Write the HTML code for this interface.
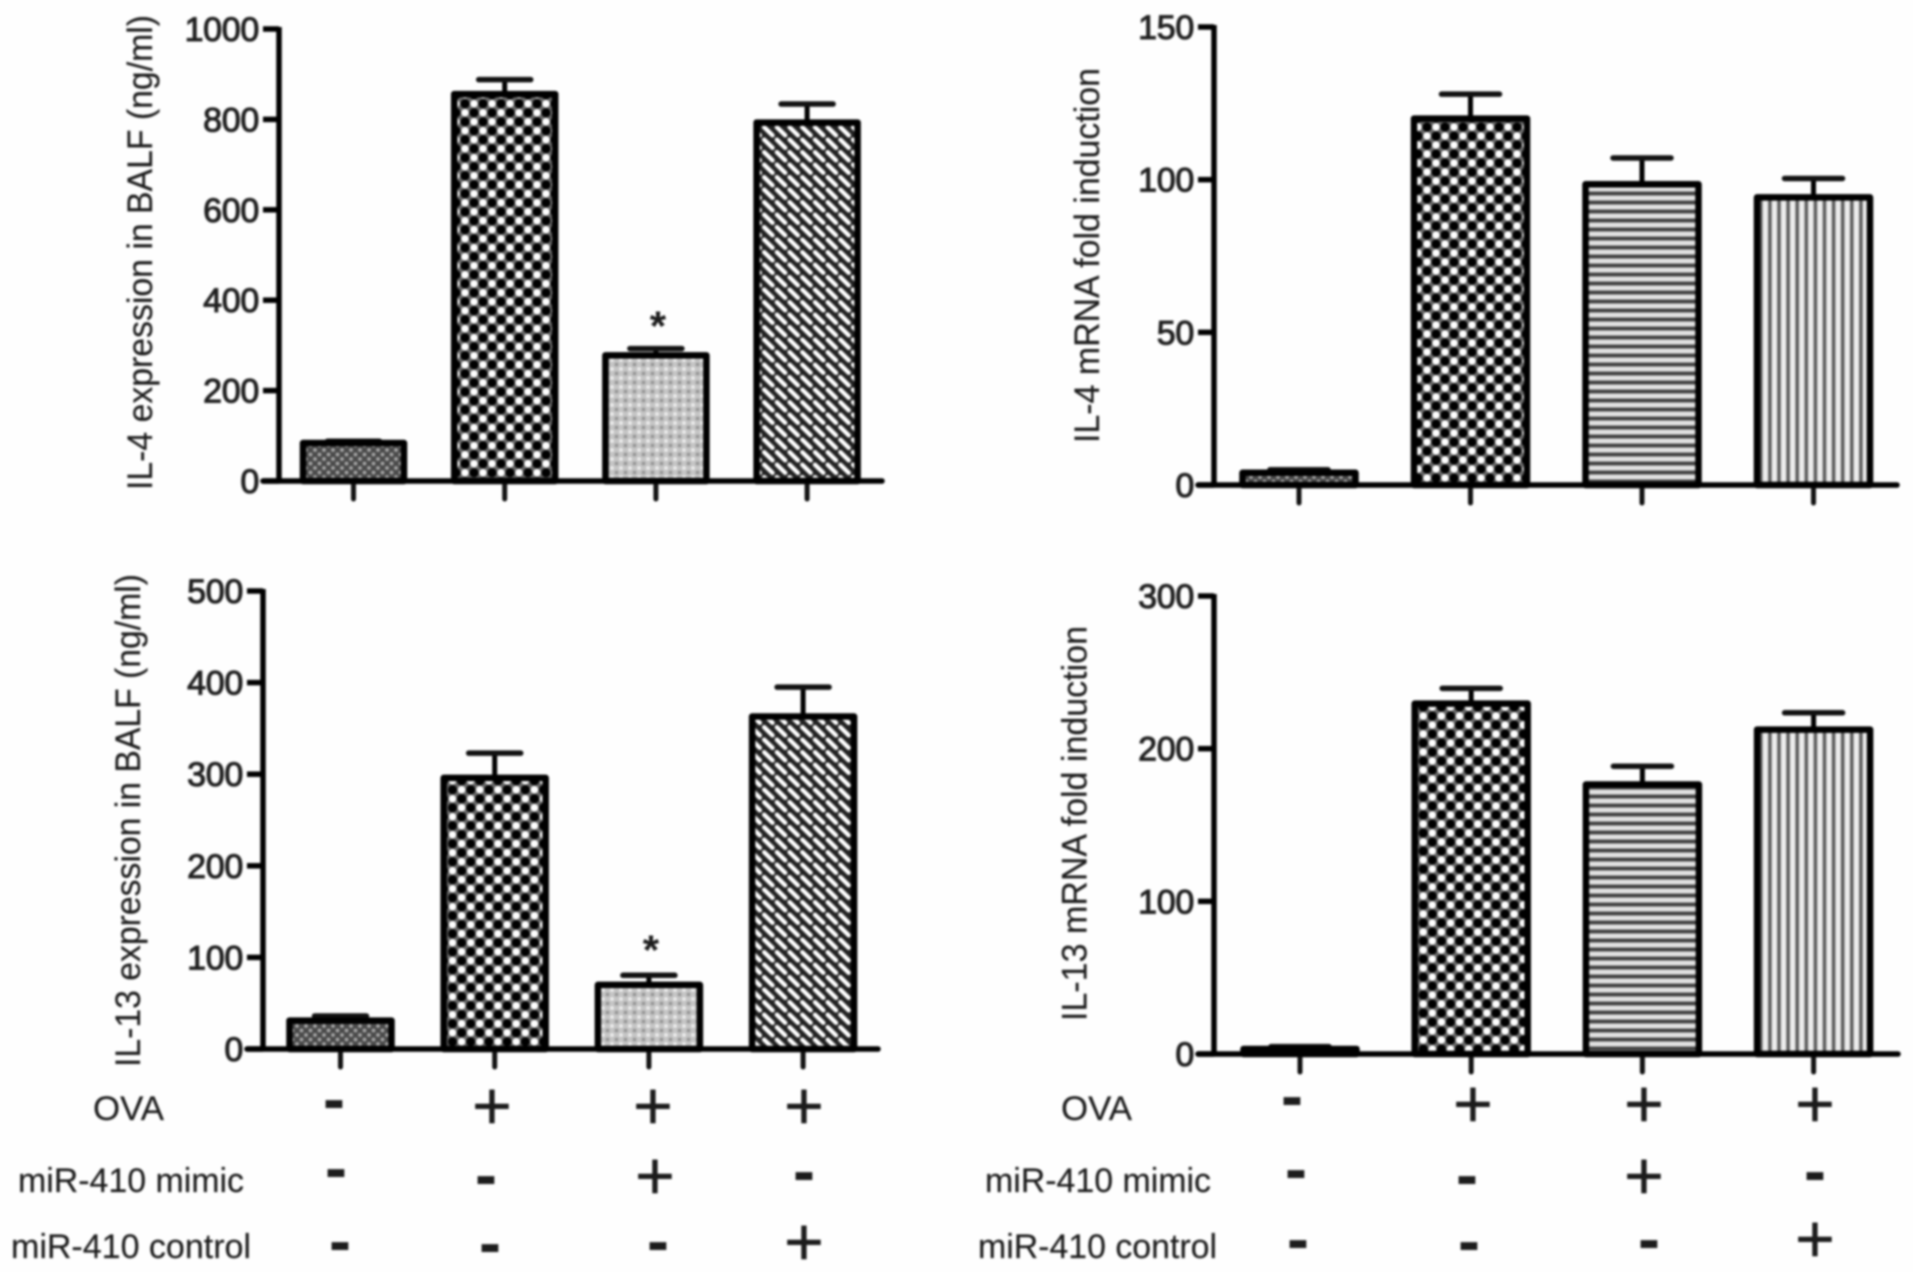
<!DOCTYPE html>
<html lang="en">
<head>
<meta charset="utf-8">
<title>IL-4 and IL-13 expression bar charts</title>
<style>
  html, body { margin: 0; padding: 0; background: #fff; }
  #figure { display: block; width: 1913px; height: 1272px; background: #fefefe; }
  #figure text { font-family: "Liberation Sans", Arial, sans-serif; fill: #1c1c1c; }
  .blurred { filter: blur(1px); }
  .row-label { font-size: 34px; fill: #2a2a2a; stroke: #333; stroke-width: 0.2px; }
  .tick-label { font-size: 34px; letter-spacing: -0.3px; stroke: #2a2a2a; stroke-width: 1.1px; }
  .axis-title { font-size: 35px; fill: #2a2a2a; stroke: #333; stroke-width: 0.2px; }
  .plus { font-size: 68px; fill: #000; stroke: #000; stroke-width: 0.4px; text-anchor: middle; }
  .minus { font-size: 66px; font-weight: bold; fill: #000; text-anchor: middle; }
  .star { font-size: 42px; font-weight: bold; fill: #222; text-anchor: middle; }
</style>
</head>
<body>
<svg id="figure" xmlns="http://www.w3.org/2000/svg" width="1913" height="1272" viewBox="0 0 1913 1272">
  <defs>
    <g id="check-tile">
      <rect width="18" height="18" fill="#6a6a6a"/>
      <circle cx="0" cy="0" r="3.7" fill="#fff"/><circle cx="18" cy="0" r="3.7" fill="#fff"/>
      <circle cx="0" cy="18" r="3.7" fill="#fff"/><circle cx="18" cy="18" r="3.7" fill="#fff"/>
      <circle cx="9" cy="9" r="3.7" fill="#fff"/>
      <circle cx="9" cy="0" r="4.6" fill="#000"/><circle cx="0" cy="9" r="4.6" fill="#000"/>
      <circle cx="18" cy="9" r="4.6" fill="#000"/><circle cx="9" cy="18" r="4.6" fill="#000"/>
    </g>
    <pattern id="check-a" width="18" height="18" patternUnits="userSpaceOnUse" patternTransform="translate(465 472.7)"><use href="#check-tile"/></pattern>
    <pattern id="check-b" width="18" height="18" patternUnits="userSpaceOnUse" patternTransform="translate(1427 478)"><use href="#check-tile"/></pattern>
    <pattern id="check-c" width="18.2" height="18" patternUnits="userSpaceOnUse" patternTransform="translate(461.7 1041.7)"><use href="#check-tile"/></pattern>
    <pattern id="check-d" width="18.2" height="18" patternUnits="userSpaceOnUse" patternTransform="translate(1423.3 1040)"><use href="#check-tile"/></pattern>
    <pattern id="dark-dots" width="9" height="9" patternUnits="userSpaceOnUse">
      <rect width="9" height="9" fill="#4a4a4a"/>
      <circle cx="0" cy="0" r="1.9" fill="#a8a8a8"/><circle cx="9" cy="0" r="1.9" fill="#a8a8a8"/>
      <circle cx="0" cy="9" r="1.9" fill="#a8a8a8"/><circle cx="9" cy="9" r="1.9" fill="#a8a8a8"/>
      <circle cx="4.5" cy="4.5" r="1.9" fill="#a8a8a8"/>
    </pattern>
    <pattern id="light-dots" width="9" height="9" patternUnits="userSpaceOnUse">
      <rect width="9" height="9" fill="#c4c4c4"/>
      <circle cx="0" cy="0" r="1.9" fill="#eee"/><circle cx="9" cy="0" r="1.9" fill="#eee"/>
      <circle cx="0" cy="9" r="1.9" fill="#eee"/><circle cx="9" cy="9" r="1.9" fill="#eee"/>
      <circle cx="4.5" cy="4.5" r="1.9" fill="#959595"/>
    </pattern>
    <pattern id="diagonal" width="12.7" height="12.5" patternUnits="userSpaceOnUse">
      <rect width="12.7" height="12.5" fill="#222"/>
      <line x1="2.2" y1="2.2" x2="10.5" y2="10.3" stroke="#fff" stroke-width="4.4" stroke-linecap="round"/>
    </pattern>
    <pattern id="horizontal" width="9" height="9" patternUnits="userSpaceOnUse">
      <rect width="9" height="9" fill="#e4e4e4"/>
      <rect y="2" width="9" height="5" fill="#9a9a9a"/>
      <rect y="3" width="9" height="3" fill="#3c3c3c"/>
    </pattern>
    <pattern id="vertical" width="9.1" height="9" patternUnits="userSpaceOnUse">
      <rect width="9.1" height="9" fill="#ededed"/>
      <rect x="2.4" width="4.2" height="9" fill="#a0a0a0"/>
      <rect x="3.2" width="2.6" height="9" fill="#555"/>
    </pattern>
  </defs>

  <g id="plots" class="blurred"></g>

  <g class="blurred">
    <text class="row-label" x="93" y="1120" textLength="71" lengthAdjust="spacingAndGlyphs">OVA</text>
    <text class="row-label" x="18" y="1192" textLength="226" lengthAdjust="spacingAndGlyphs">miR-410 mimic</text>
    <text class="row-label" x="11" y="1258" textLength="240" lengthAdjust="spacingAndGlyphs">miR-410 control</text>

    <text class="minus" x="334" y="1121">-</text>
    <text class="plus" x="492" y="1129">+</text>
    <text class="plus" x="653" y="1129">+</text>
    <text class="plus" x="804" y="1129">+</text>

    <text class="minus" x="336" y="1190">-</text>
    <text class="minus" x="486" y="1197">-</text>
    <text class="plus" x="655" y="1199">+</text>
    <text class="minus" x="804" y="1193">-</text>

    <text class="minus" x="340" y="1263">-</text>
    <text class="minus" x="490" y="1265">-</text>
    <text class="minus" x="658" y="1263">-</text>
    <text class="plus" x="804" y="1265">+</text>
  </g>

  <g class="blurred">
    <text class="row-label" x="1061" y="1120" textLength="71" lengthAdjust="spacingAndGlyphs">OVA</text>
    <text class="row-label" x="985" y="1192" textLength="226" lengthAdjust="spacingAndGlyphs">miR-410 mimic</text>
    <text class="row-label" x="978" y="1258" textLength="239" lengthAdjust="spacingAndGlyphs">miR-410 control</text>

    <text class="minus" x="1292" y="1118">-</text>
    <text class="plus" x="1473" y="1127">+</text>
    <text class="plus" x="1644" y="1127">+</text>
    <text class="plus" x="1815" y="1127">+</text>

    <text class="minus" x="1296" y="1191">-</text>
    <text class="minus" x="1467" y="1197">-</text>
    <text class="plus" x="1644" y="1199">+</text>
    <text class="minus" x="1815" y="1193">-</text>

    <text class="minus" x="1298" y="1261">-</text>
    <text class="minus" x="1469" y="1263">-</text>
    <text class="minus" x="1649" y="1261">-</text>
    <text class="plus" x="1815" y="1262">+</text>
  </g>
</svg>

<script>
// ---- chart data ----
const categories = ['control', 'ova', 'ova-mimic', 'ova-control'];

const il4BalfValues = [84, 856, 278, 793];
const il4BalfErrors = [4, 32, 15, 41];
const il4BalfTicks = [0, 200, 400, 600, 800, 1000];
const il4BalfStars = [false, false, true, false];

const il4MrnaValues = [4, 120, 98.5, 94.2];
const il4MrnaErrors = [1, 8, 8.6, 6.2];
const il4MrnaTicks = [0, 50, 100, 150];

const il13BalfValues = [31, 296, 70, 363];
const il13BalfErrors = [5, 27, 10.5, 32];
const il13BalfTicks = [0, 100, 200, 300, 400, 500];
const il13BalfStars = [false, false, true, false];

const il13MrnaValues = [3.3, 229.5, 176.5, 212.5];
const il13MrnaErrors = [1.5, 10, 12, 11];
const il13MrnaTicks = [0, 100, 200, 300];

// ---- drawing ----
const SVG_NS = 'http://www.w3.org/2000/svg';
const plots = document.getElementById('plots');

function make(parent, tag, attrs) {
  const node = document.createElementNS(SVG_NS, tag);
  for (const key in attrs) node.setAttribute(key, attrs[key]);
  parent.appendChild(node);
  return node;
}

function drawPanel(p) {
  const yScale = v => p.yZero - (v / p.yMax) * (p.yZero - p.yTop);
  const xScale = i => p.xStart + i * p.xStep;

  const panel = make(plots, 'g', {});
  
  

  // bars first so axes sit over their bases
  p.values.forEach((value, i) => {
    const cx = xScale(i);
    const top = yScale(value);
    const capY = yScale(value + p.errors[i]);

    const stem = make(panel, 'line', { x1: cx, x2: cx, y1: capY, y2: top, stroke: '#000', 'stroke-width': 5 });
    
    

    const cap = make(panel, 'line', { x1: cx - p.capWidth / 2, x2: cx + p.capWidth / 2, y1: capY, y2: capY, stroke: '#111', 'stroke-width': 5.5, 'stroke-linecap': 'round' });
    
    

    const bar = make(panel, 'rect', {
      x: cx - p.barWidth / 2, y: top, width: p.barWidth, height: Math.max(p.yZero - top, 0),
      fill: 'url(#' + p.fills[i] + ')', stroke: '#000', 'stroke-width': 6.5, 'stroke-linejoin': 'round'
    });
    
    

    if (p.stars && p.stars[i]) {
      const star = make(panel, 'text', { class: 'star', x: cx + 2, y: capY - p.starGap });
      star.textContent = '*';
      
      
    }

    const xTick = make(panel, 'line', { x1: cx, x2: cx, y1: p.yZero, y2: p.yZero + 18, stroke: '#111', 'stroke-width': 5, 'stroke-linecap': 'round' });
    
    
  });

  const xAxis = make(panel, 'line', { x1: p.axisX - 16, x2: p.axisEnd, y1: p.yZero, y2: p.yZero, stroke: '#000', 'stroke-width': 5.5, 'stroke-linecap': 'round' });
  
  

  const yAxis = make(panel, 'line', { x1: p.axisX, x2: p.axisX, y1: p.yTop - 2, y2: p.yZero, stroke: '#000', 'stroke-width': 5.5 });
  
  

  p.ticks.forEach(t => {
    const y = yScale(t);
    const tick = make(panel, 'line', { x1: p.axisX - 16, x2: p.axisX, y1: y, y2: y, stroke: '#000', 'stroke-width': 5.5 });
    
    

    const label = make(panel, 'text', { class: 'tick-label', x: p.axisX - 20, y: y + 12, 'text-anchor': 'end' });
    label.textContent = String(t);
    
    
  });

  const title = make(panel, 'text', {
    class: 'axis-title',
    transform: 'translate(' + p.titleX + ' ' + p.titleBottom + ') rotate(-90)',
    textLength: p.titleLength, lengthAdjust: 'spacingAndGlyphs'
  });
  title.textContent = p.title;
  
  
}

drawPanel({
  name: 'il4-balf', title: 'IL-4 expression in BALF (ng/ml)',
  values: il4BalfValues, errors: il4BalfErrors, ticks: il4BalfTicks, stars: il4BalfStars, starGap: 8, yMax: 1000,
  yTop: 29, yZero: 481, axisX: 279, axisEnd: 882,
  xStart: 353.5, xStep: 151.2, barWidth: 101, capWidth: 52,
  fills: ['dark-dots', 'check-a', 'light-dots', 'diagonal'],
  titleX: 152, titleBottom: 490, titleLength: 475
});

drawPanel({
  name: 'il4-mrna', title: 'IL-4 mRNA fold induction',
  values: il4MrnaValues, errors: il4MrnaErrors, ticks: il4MrnaTicks, yMax: 150,
  yTop: 27, yZero: 485, axisX: 1214, axisEnd: 1897,
  xStart: 1299, xStep: 171.5, barWidth: 113, capWidth: 58,
  fills: ['dark-dots', 'check-b', 'horizontal', 'vertical'],
  titleX: 1099, titleBottom: 443, titleLength: 375
});

drawPanel({
  name: 'il13-balf', title: 'IL-13 expression in BALF (ng/ml)',
  values: il13BalfValues, errors: il13BalfErrors, ticks: il13BalfTicks, stars: il13BalfStars, starGap: 11, yMax: 500,
  yTop: 591, yZero: 1049, axisX: 263, axisEnd: 878,
  xStart: 340.5, xStep: 154.2, barWidth: 102, capWidth: 52,
  fills: ['dark-dots', 'check-c', 'light-dots', 'diagonal'],
  titleX: 140, titleBottom: 1067, titleLength: 493
});

drawPanel({
  name: 'il13-mrna', title: 'IL-13 mRNA fold induction',
  values: il13MrnaValues, errors: il13MrnaErrors, ticks: il13MrnaTicks, yMax: 300,
  yTop: 596, yZero: 1054, axisX: 1214, axisEnd: 1898,
  xStart: 1300, xStep: 171.2, barWidth: 113, capWidth: 58,
  fills: ['dark-dots', 'check-d', 'horizontal', 'vertical'],
  titleX: 1086.5, titleBottom: 1021, titleLength: 395
});
</script>
</body>
</html>
